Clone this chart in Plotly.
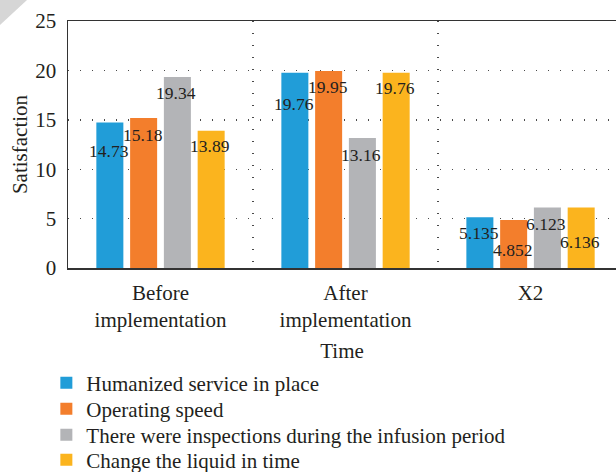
import plotly.graph_objects as go

categories = ["Before<br>implementation", "After<br>implementation", "X2"]
series_names = [
    "Humanized service in place",
    "Operating speed",
    "There were inspections during the infusion period",
    "Change the liquid in time",
]
humanized = [14.73, 19.76, 5.135]
operating = [15.18, 19.95, 4.852]
inspections = [19.34, 13.16, 6.123]
change_liquid = [13.89, 19.76, 6.136]
value_labels = [
    ["14.73", "19.76", "5.135"],
    ["15.18", "19.95", "4.852"],
    ["19.34", "13.16", "6.123"],
    ["13.89", "19.76", "6.136"],
]
y_ticks = [0, 5, 10, 15, 20, 25]

series_values = [humanized, operating, inspections, change_liquid]
colors = ["#219DD8", "#F37E2C", "#B3B4B7", "#FBB41E"]
# vertical drop (px) of each value label below its bar top (style, not data)
label_drop = [
    [29, 31, 16],
    [17, 16, 30],
    [16, 17, 16],
    [15, 15, 35],
]
# one legend box per series, each row placed individually (paper y)
legend_ids = ["legend", "legend2", "legend3", "legend4"]
legend_rows_y = [-0.4656, -0.5709, -0.6761, -0.7773]

FONT = "Liberation Serif"
TXT = "#231F20"
bargap = 0.27
bargroupgap = 0.2

fig = go.Figure()
for name, vals, col, lid in zip(series_names, series_values, colors, legend_ids):
    fig.add_trace(go.Bar(name=name, x=categories, y=vals, marker_color=col,
                         marker_line_width=0, hoverinfo="skip", legend=lid))

n = len(series_values)
slot = (1 - bargap) / n
for si, (vals, labs) in enumerate(zip(series_values, value_labels)):
    for ci, (v, lab) in enumerate(zip(vals, labs)):
        fig.add_annotation(x=ci + (si - (n - 1) / 2) * slot, y=v, text=lab,
                           showarrow=False, yanchor="middle",
                           yshift=-label_drop[si][ci], xshift=-1,
                           font=dict(family=FONT, size=17.5, color=TXT))

# grey page-corner triangle (decoration)
fig.add_shape(type="path", xref="paper", yref="paper",
              path="M -0.1241,1.085 L -0.0748,1.085 L -0.1241,0.984 Z",
              fillcolor="#D6D6D6", line_width=0, layer="below")

legend_common = dict(orientation="v", x=-0.0395, xanchor="left", yanchor="middle",
                     font=dict(family=FONT, size=21, color=TXT),
                     bgcolor="rgba(0,0,0,0)", borderwidth=0)
legend_layout = {lid: dict(legend_common, y=ly) for lid, ly in zip(legend_ids, legend_rows_y)}

fig.update_layout(
    width=616, height=472,
    margin=dict(l=68, r=0, t=21, b=204, autoexpand=False),
    paper_bgcolor="white", plot_bgcolor="white",
    barmode="group", bargap=bargap, bargroupgap=bargroupgap,
    font=dict(family=FONT, size=20, color=TXT),
    showlegend=True,
    **legend_layout,
    xaxis=dict(
        type="category", range=[-0.5, 2.462], automargin=False,
        tickson="boundaries", ticks="", showgrid=True,
        gridcolor="#4A4A4A", griddash="1.3px,10.7px", gridwidth=1.4,
        showline=True, linecolor="#333333", linewidth=1.5, mirror=True,
        tickfont=dict(family=FONT, size=21, color=TXT), ticklabelstandoff=5,
        title=dict(text="Time", font=dict(family=FONT, size=21, color=TXT), standoff=12),
    ),
    yaxis=dict(
        range=[0, 25], tickvals=y_ticks, ticks="", automargin=False,
        showgrid=True, gridcolor="#4A4A4A", griddash="1.3px,10.7px", gridwidth=1.4,
        showline=True, linecolor="#333333", linewidth=1.5, zeroline=False,
        tickfont=dict(family=FONT, size=21, color=TXT), ticklabelstandoff=6,
        title=dict(text="Satisfaction", font=dict(family=FONT, size=21, color=TXT), standoff=2),
    ),
)

fig.write_html("out.html", config={"displayModeBar": False, "staticPlot": True},
               post_script="document.body.style.margin='0';")
